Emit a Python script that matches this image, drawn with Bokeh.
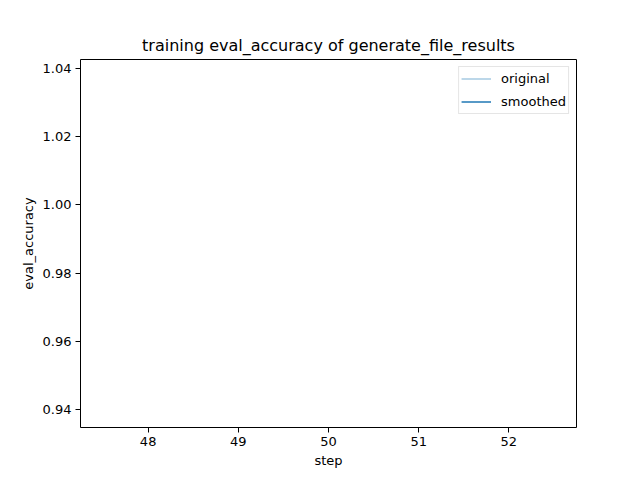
from bokeh.plotting import figure
from bokeh.embed import file_html
from bokeh.resources import INLINE
from bokeh.models import FixedTicker, NumeralTickFormatter, Range1d, Legend, LegendItem

# a single logged evaluation step
steps = [50]
original = [0.9887]
smoothed = [0.9887]

x_ticks = [48, 49, 50, 51, 52]
y_ticks = [0.94, 0.96, 0.98, 1.00, 1.02, 1.04]

p = figure(width=640, height=480, output_backend="svg", toolbar_location=None,
           x_range=Range1d(47.25, 52.75), y_range=Range1d(0.9347, 1.0426),
           title="training eval_accuracy of generate_file_results",
           min_border_left=80, min_border_right=64, min_border_top=59, min_border_bottom=53)

r1 = p.line(steps, original, line_color="#1f77b4", line_alpha=0.4, line_width=1.5)
r2 = p.line(steps, smoothed, line_color="#1f77b4", line_width=1.5)

legend = Legend(items=[LegendItem(label="original", renderers=[r1]),
                       LegendItem(label="smoothed", renderers=[r2])],
                location="top_right")
legend.label_text_font = "DejaVu Sans"
legend.label_text_font_size = "13px"
legend.label_text_color = "black"
legend.label_height = 19
legend.glyph_height = 19
legend.glyph_width = 30
legend.spacing = 4
legend.padding = 2
legend.margin = 7
legend.label_standoff = 10
legend.border_line_color = "#cccccc"
legend.border_line_width = 1
legend.background_fill_alpha = 0.8
p.add_layout(legend)

p.title.text_font = "DejaVu Sans"
p.title.text_font_size = "16px"
p.title.text_font_style = "normal"
p.title.text_color = "black"
p.title.align = "center"
p.title.offset = 0
p.title.standoff = 9

p.xgrid.visible = False
p.ygrid.visible = False
p.outline_line_color = "black"
p.outline_line_width = 1
p.outline_line_alpha = 1

p.xaxis.ticker = FixedTicker(ticks=x_ticks)
p.yaxis.ticker = FixedTicker(ticks=y_ticks)
p.yaxis.formatter = NumeralTickFormatter(format="0.00")
p.xaxis.axis_label = "step"
p.yaxis.axis_label = "eval_accuracy"

for ax in [p.xaxis[0], p.yaxis[0]]:
    ax.axis_label_text_font = "DejaVu Sans"
    ax.axis_label_text_font_size = "13px"
    ax.axis_label_text_font_style = "normal"
    ax.axis_label_text_color = "black"
    ax.major_label_text_font = "DejaVu Sans"
    ax.major_label_text_font_size = "13px"
    ax.major_label_text_color = "black"
    ax.axis_line_color = None
    ax.major_tick_out = 5
    ax.major_tick_in = 0
    ax.minor_tick_out = 0
    ax.minor_tick_in = 0
    ax.major_tick_line_color = "black"
    ax.major_label_standoff = 4
    ax.axis_label_standoff = 4

open("out.html", "w").write(file_html(p, INLINE))
